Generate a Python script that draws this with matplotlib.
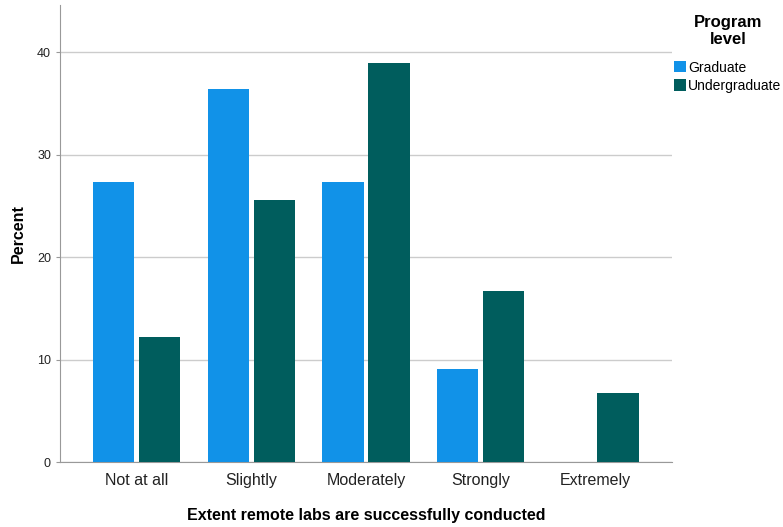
import matplotlib
matplotlib.use("Agg")
import matplotlib.pyplot as plt
import numpy as np

plt.rcParams['font.family'] = ['Liberation Sans', 'DejaVu Sans']

# data
categories = ["Not at all", "Slightly", "Moderately", "Strongly", "Extremely"]
graduate = [27.3, 36.4, 27.3, 9.1, 0.0]
undergraduate = [12.2, 25.6, 38.9, 16.7, 6.7]

fig = plt.figure(figsize=(7.83, 5.27), dpi=100)
ax = fig.add_axes([0.0766, 0.1233, 0.7816, 0.8672])

x = np.arange(len(categories))
w = 0.36
ax.bar(x - 0.2, graduate, w, color="#1192e8", label="Graduate", zorder=3)
ax.bar(x + 0.2, undergraduate, w, color="#005d5d", label="Undergraduate", zorder=3)

ax.set_xlim(-0.67, 4.67)
ax.set_ylim(0, 44.6)
ax.set_yticks([0, 10, 20, 30, 40])
ax.set_xticks(x)
ax.set_xticklabels(categories, fontsize=11.5, color="#222222")
ax.tick_params(axis='y', labelsize=9, length=3, color="#999999", labelcolor="#222222")
ax.tick_params(axis='x', length=0, pad=8)
ax.grid(axis='y', color="#cccccc", linewidth=1, zorder=0)

for s in ["top", "right"]:
    ax.spines[s].set_visible(False)
ax.spines["left"].set_color("#999999")
ax.spines["bottom"].set_color("#999999")

ax.set_xlabel("Extent remote labs are successfully conducted", fontsize=11.5,
              fontweight="bold", labelpad=14)
ax.set_ylabel("Percent", fontsize=11.5, fontweight="bold", labelpad=8)

# legend title drawn separately so it can sit centred above the entries
fig.text(0.93, 0.972, "Program\nlevel", ha="center", va="top", fontsize=12,
         fontweight="bold", linespacing=1.2)
fig.legend(loc="upper left", bbox_to_anchor=(0.861, 0.885), frameon=False,
           fontsize=10, handlelength=0.85, handleheight=0.85,
           handletextpad=0.15, labelspacing=0.3, borderpad=0, borderaxespad=0)

fig.savefig("out.png", dpi=100)
